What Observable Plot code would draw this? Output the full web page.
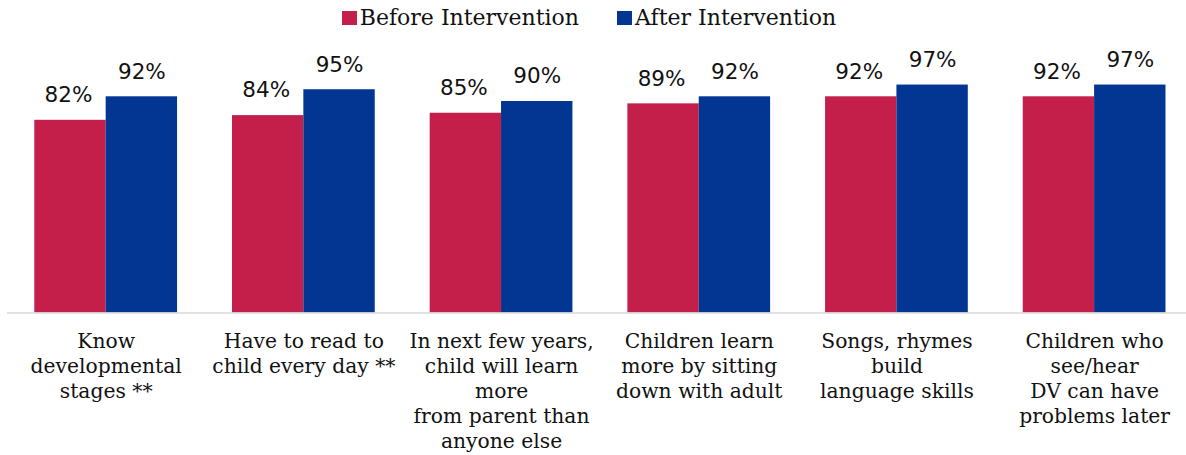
<!DOCTYPE html>
<html>
<head>
<meta charset="utf-8">
<script src="https://cdn.jsdelivr.net/npm/d3@7"></script>
<script src="https://cdn.jsdelivr.net/npm/@observablehq/plot@0.6"></script>
<style>
  html, body { margin: 0; padding: 0; background: #fff; }
  #legend {
    height: 38px; display: flex; justify-content: center; align-items: flex-start;
    font-family: "DejaVu Serif", serif; font-size: 22px; color: #111;
    padding-right: 8px; box-sizing: border-box;
  }
  .item { display: flex; align-items: center; margin: 0 19px; margin-top: 5px; }
  .sw { width: 15px; height: 14px; display: inline-block; margin-right: 3px; }
  #chart svg { display: block; }
</style>
</head>
<body>
<div id="legend"></div>
<div id="chart"></div>
<script>
const categories = [
  "Know\ndevelopmental\nstages **",
  "Have to read to\nchild every day **",
  "In next few years,\nchild will learn\nmore\nfrom parent than\nanyone else",
  "Children learn\nmore by sitting\ndown with adult",
  "Songs, rhymes\nbuild\nlanguage skills",
  "Children who\nsee/hear\nDV can have\nproblems later"
];
const before = [0.82, 0.84, 0.85, 0.89, 0.92, 0.92];
const after  = [0.92, 0.95, 0.90, 0.92, 0.97, 0.97];
const seriesNames = ["Before Intervention", "After Intervention"];
const seriesColors = ["#C41F4B", "#023692"];

const rows = categories.map((c, i) => ({category: c, before: before[i], after: after[i]}));

const legend = document.getElementById("legend");
seriesNames.forEach((n, i) => {
  const it = document.createElement("div");
  it.className = "item";
  it.innerHTML = `<span class="sw" style="background:${seriesColors[i]}"></span><span>${n}</span>`;
  legend.appendChild(it);
});

const half = 71.35;
const labelFont = "DejaVu Sans, sans-serif";
const chart = Plot.plot({
  width: 1186,
  height: 417,
  marginLeft: 7,
  marginRight: 0,
  marginTop: 39.5,
  marginBottom: 142.5,
  style: {background: "#fff"},
  x: {domain: categories, paddingInner: 0.278, paddingOuter: 0.121, align: 0.571, round: false, axis: null},
  y: {domain: [0, 1], axis: null},
  marks: [
    Plot.barY(rows, {x: "category", y: "before", fill: seriesColors[0], insetRight: half}),
    Plot.barY(rows, {x: "category", y: "after", fill: seriesColors[1], insetLeft: half}),
    Plot.ruleY([0], {stroke: "#d9d9d9", strokeWidth: 1.5}),
    Plot.text(rows, {x: "category", y: "before", text: d => Math.round(d.before * 100) + "%", dx: -half / 2 - 2, dy: -25, fontSize: 21.5, fontFamily: labelFont, fill: "#111"}),
    Plot.text(rows, {x: "category", y: "after", text: d => Math.round(d.after * 100) + "%", dx: half / 2, dy: -25, fontSize: 21.5, fontFamily: labelFont, fill: "#111"}),
    Plot.text(categories, {x: d => d, text: d => d, frameAnchor: "bottom", lineAnchor: "top", dy: 17, fontSize: 20.3, lineHeight: 1.23, fontFamily: "DejaVu Serif, serif", fill: "#111"})
  ]
});
document.getElementById("chart").appendChild(chart);
</script>
</body>
</html>
